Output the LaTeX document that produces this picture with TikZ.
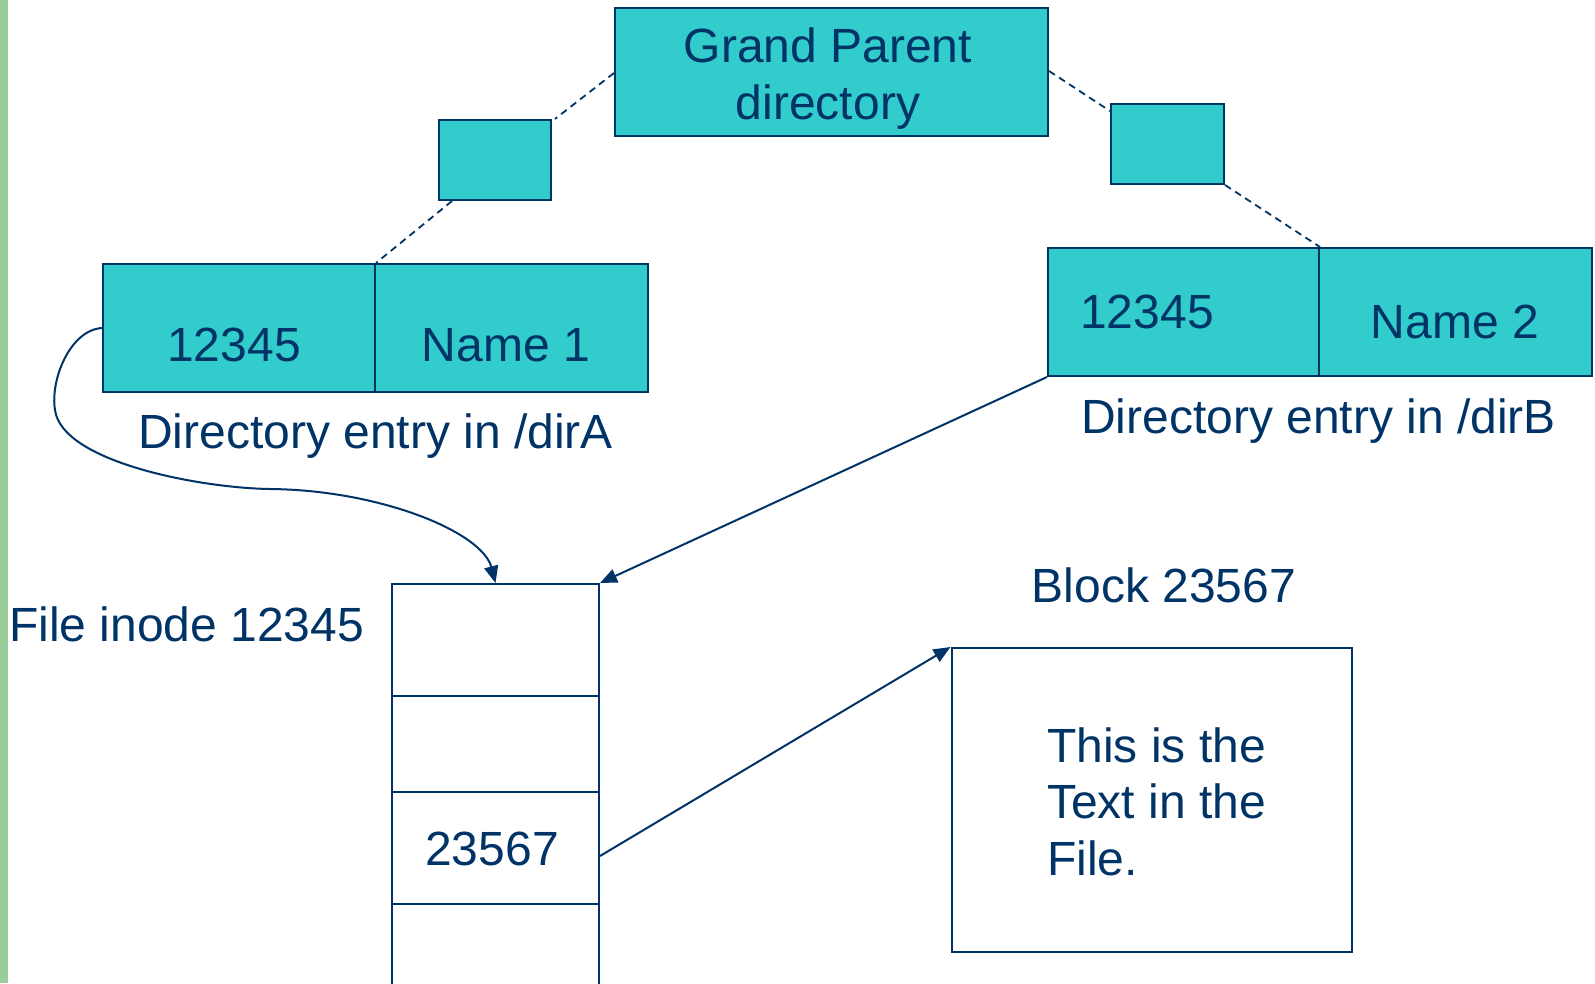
\documentclass[tikz,border=0pt]{standalone}
\usepackage{fontspec}
\setmainfont{Liberation Sans}
\usetikzlibrary{arrows.meta}
\definecolor{navy}{HTML}{003366}
\definecolor{teal}{HTML}{33CCCC}
\definecolor{leaf}{HTML}{9ACD9A}
\tikzset{
  lbl/.style={inner sep=0pt, text=navy, font=\fontsize{48}{56.5}\selectfont},
  entrybox/.style={draw=navy, fill=teal, line width=2pt, inner sep=0pt},
  cellbox/.style={draw=navy, fill=white, line width=2pt, inner sep=0pt,
                  minimum width=207pt},
  link/.style={draw=navy, dash pattern=on 7pt off 5pt, line width=1.8pt},
  ptr/.style={draw=navy, line width=2pt, -{Triangle[length=17pt,width=14pt]}},
}
\begin{document}
\begin{tikzpicture}[x=1pt, y=-1pt]
\clip (0,0) rectangle (1595,983);
\fill[white] (0,0) rectangle (1595,983);
\fill[leaf] (0,0) rectangle (8,983);

% directory boxes
\node[entrybox, minimum width=433pt, minimum height=128pt] (gp) at (831.5,72) {};
\node[entrybox, minimum width=112pt, minimum height=80pt] (sA) at (495,160) {};
\node[entrybox, minimum width=113pt, minimum height=80pt] (sB) at (1167.5,144) {};
\node[entrybox, minimum width=272pt, minimum height=128pt] (dA1) at (239,328) {};
\node[entrybox, minimum width=273pt, minimum height=128pt] (dA2) at (511.5,328) {};
\node[entrybox, minimum width=271pt, minimum height=128pt] (dB1) at (1183.5,312) {};
\node[entrybox, minimum width=273pt, minimum height=128pt] (dB2) at (1455.5,312) {};

% inode cells and data block
\node[cellbox, minimum height=112pt] (c1) at (495.5,640) {};
\node[cellbox, minimum height=96pt]  (c2) at (495.5,744) {};
\node[cellbox, minimum height=112pt] (c3) at (495.5,848) {};
\node[cellbox, minimum height=112pt] (c4) at (495.5,960) {};
\node[cellbox, minimum width=400pt, minimum height=304pt] (blk) at (1151.5,800) {};

% labels (multi-line nodes sit on the baseline of their last line)
\node[lbl, anchor=base, align=center] (gpt) at (828,119) {Grand Parent\\directory};
\node[lbl, anchor=base] (a1) at (234,361) {12345};
\node[lbl, anchor=base] (a2) at (506,361) {Name 1};
\node[lbl, anchor=base west] (aT) at (138,448) {Directory entry in /dirA};
\node[lbl, anchor=base] (b1) at (1147,328) {12345};
\node[lbl, anchor=base] (b2) at (1455,338) {Name 2};
\node[lbl, anchor=base west] (bT) at (1081,433) {Directory entry in /dirB};
\node[lbl, anchor=base west] (iT) at (9,641) {File inode 12345};
\node[lbl, anchor=base] (cT) at (492,865) {23567};
\node[lbl, anchor=base] (kT) at (1164,602) {Block 23567};
\node[lbl, anchor=base west, align=left] (fT) at (1047,875) {This is the\\Text in the\\File.};

% tree links
\path[link] ([yshift=-1pt]gp.west) -- ([xshift=3pt]sA.north east);
\path[link] ([xshift=14pt]sA.south west) -- (dA1.north east);
\path[link] ([yshift=1pt]gp.east) -- ([yshift=-8pt]sB.north west);
\path[link] (sB.south east) -- (dB1.north east);

% pointers
\path[ptr] (dA1.west) .. controls (70,330) and (50,380) .. (55,410)
  .. controls (62,462) and (200,488) .. (270,489)
  .. controls (380,490) and (482,532) .. (c1.north);
\path[ptr] (dB1.south west) -- (c1.north east);
\path[ptr] ([yshift=-8pt]c3.east) -- (blk.north west);
\end{tikzpicture}
\end{document}
